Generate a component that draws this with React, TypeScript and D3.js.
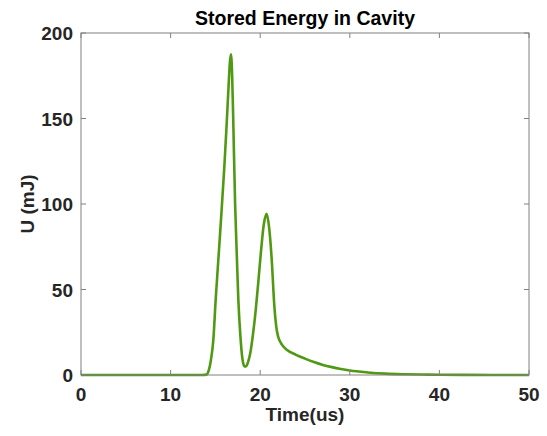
import { useMemo } from 'react';
import * as d3 from 'd3';

// time in microseconds, energy in mJ
const timeUs = [
	0, 13.5, 14.0, 14.25, 14.5, 14.77, 15.03, 15.4, 15.7, 16.0, 16.26, 16.5, 16.62, 16.74, 16.87,
	17.0, 17.2, 17.37, 17.56, 17.82, 18.0, 18.15, 18.3, 18.5, 18.7, 18.9, 19.2, 19.5, 19.8, 20.1,
	20.4, 20.72, 21.0, 21.28, 21.57, 21.8, 22.0, 22.3, 22.6, 23.0, 24, 25, 26, 27, 28, 29, 30, 32, 34,
	36, 38, 40, 43, 46, 50,
];
const energyMJ = [
	0, 0, 0.2, 2.5, 8.8, 20.5, 44, 73, 97, 122, 147, 172, 183, 187.5, 175, 147, 100, 73, 44, 20.5,
	10, 6, 4.9, 5.6, 8.5, 13, 24, 38, 55, 73, 88, 94.2, 86, 68, 41, 28, 22.5, 18.8, 16.6, 14.6, 11.8,
	9.6, 7.6, 5.9, 4.6, 3.5, 2.6, 1.5, 0.8, 0.45, 0.25, 0.14, 0.07, 0.03, 0.01,
];
const xTicks = [0, 10, 20, 30, 40, 50];
const yTicks = [0, 50, 100, 150, 200];

const W = 547;
const H = 436;
const margin = { left: 81, right: 18, top: 33, bottom: 61 };

export default function App() {
	const x = d3.scaleLinear().domain([0, 50]).range([margin.left, W - margin.right]);
	const y = d3.scaleLinear().domain([0, 200]).range([H - margin.bottom, margin.top]);

	const path = useMemo(() => {
		const pts: [number, number][] = timeUs.map((t, i) => [t, energyMJ[i]]);
		return d3
			.line<[number, number]>()
			.x((d) => x(d[0]))
			.y((d) => y(d[1]))
			.curve(d3.curveMonotoneX)(pts);
	}, []);

	const font = '"Liberation Sans", Arial, sans-serif';
	const axisColor = '#808080';
	const textColor = '#262626';
	const x0 = margin.left;
	const x1 = W - margin.right;
	const y0 = H - margin.bottom;
	const y1 = margin.top;
	const tickLen = 5;

	return (
		<svg
			width={W}
			height={H}
			style={{ position: 'absolute', left: 0, top: 0, background: '#fff' }}
			fontFamily={font}
		>
			<rect x={0} y={0} width={W} height={H} fill="#fff" />
			<path d={path ?? ''} fill="none" stroke="#4f9a12" strokeWidth={2.6} strokeLinejoin="round" />
			{/* box with ticks on all four sides */}
			<rect x={x0} y={y1} width={x1 - x0} height={y0 - y1} fill="none" stroke={axisColor} strokeWidth={1} />
			{xTicks.map((t) => (
				<g key={'x' + t}>
					<line x1={x(t)} x2={x(t)} y1={y0} y2={y0 - tickLen} stroke={axisColor} />
					<line x1={x(t)} x2={x(t)} y1={y1} y2={y1 + tickLen} stroke={axisColor} />
					<text x={x(t)} y={y0 + 26} textAnchor="middle" fontSize={19} fontWeight="bold" fill={textColor}>
						{t}
					</text>
				</g>
			))}
			{yTicks.map((t) => (
				<g key={'y' + t}>
					<line x1={x0} x2={x0 + tickLen} y1={y(t)} y2={y(t)} stroke={axisColor} />
					<line x1={x1} x2={x1 - tickLen} y1={y(t)} y2={y(t)} stroke={axisColor} />
					<text x={x0 - 8} y={y(t) + 7} textAnchor="end" fontSize={19} fontWeight="bold" fill={textColor}>
						{t}
					</text>
				</g>
			))}
			<text x={(x0 + x1) / 2} y={25} textAnchor="middle" fontSize={19.5} fontWeight="bold" fill="#000">
				Stored Energy in Cavity
			</text>
			<text x={(x0 + x1) / 2} y={421} textAnchor="middle" fontSize={19} fontWeight="bold" fill={textColor}>
				Time(us)
			</text>
			<text
				transform={`translate(34,${(y0 + y1) / 2}) rotate(-90)`}
				textAnchor="middle"
				fontSize={19}
				fontWeight="bold"
				fill={textColor}
			>
				U (mJ)
			</text>
		</svg>
	);
}
